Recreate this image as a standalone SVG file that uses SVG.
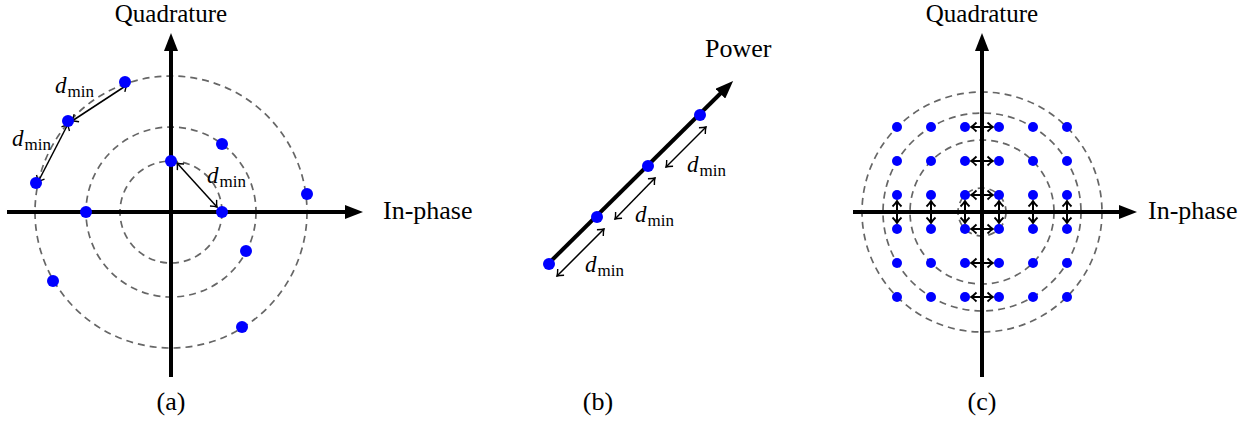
<svg xmlns="http://www.w3.org/2000/svg" width="1255" height="428" viewBox="0 0 1255 428">
<style>
.lbl{font-family:"Liberation Serif","Times New Roman",serif;font-size:26px;fill:#000}
.top{font-size:25px}
.dm{font-family:"Liberation Serif","Times New Roman",serif;fill:#000}
.dm .d{font-style:italic;font-size:23px}
.dm .s{font-size:17px}
.axis{stroke:#000;stroke-width:4;fill:none}
.ring{stroke:#666;stroke-width:1.7;fill:none;stroke-dasharray:7 5}
.dot{fill:#0000ff}
.dist{stroke:#000;stroke-width:1.5;fill:none}
.dist2{stroke:#000;stroke-width:2;fill:none}
</style>
<defs>
<marker id="ah" viewBox="0 0 18 14" refX="8" refY="7" markerWidth="18" markerHeight="14" markerUnits="userSpaceOnUse" orient="auto"><path d="M0,0 L18,7 L0,14 Z" fill="#000"/></marker>
<marker id="oa" viewBox="-7 -6 9 12" refX="0" refY="0" markerWidth="9" markerHeight="12" markerUnits="userSpaceOnUse" orient="auto-start-reverse" overflow="visible"><path d="M-5.5,-4.5 Q-2,-1 0,0 Q-2,1 -5.5,4.5" fill="none" stroke="#000" stroke-width="1.4"/></marker>
<marker id="ob" viewBox="-7 -6 9 12" refX="0" refY="0" markerWidth="9" markerHeight="12" markerUnits="userSpaceOnUse" orient="auto-start-reverse" overflow="visible"><path d="M-5.5,-4.5 Q-2,-1 0,0 Q-2,1 -5.5,4.5" fill="none" stroke="#000" stroke-width="1.8"/></marker>
</defs>
<rect width="1255" height="428" fill="#fff"/>

<!-- Panel (a) -->
<g id="panel-a">
  <g id="a-rings">
    <circle class="ring" cx="171" cy="212" r="51"/>
    <circle class="ring" cx="171" cy="212" r="85"/>
    <circle class="ring" cx="171" cy="212" r="136"/>
  </g>
  <g id="a-axes">
    <line class="axis" x1="7" y1="212" x2="353" y2="212" marker-end="url(#ah)"/>
    <line class="axis" x1="171" y1="377" x2="171" y2="43" marker-end="url(#ah)"/>
  </g>
  <g id="a-connectors">
    <line class="dist" x1="127" y1="85" x2="72" y2="121" marker-start="url(#oa)" marker-end="url(#oa)"/>
    <line class="dist" x1="68" y1="124" x2="38" y2="182" marker-start="url(#oa)" marker-end="url(#oa)"/>
    <line class="dist" x1="177" y1="163" x2="217" y2="207" marker-start="url(#oa)" marker-end="url(#oa)"/>
  </g>
  <g id="a-points">
    <circle class="dot" cx="125" cy="82" r="6"/>
    <circle class="dot" cx="68" cy="121" r="6"/>
    <circle class="dot" cx="36" cy="183" r="6"/>
    <circle class="dot" cx="171" cy="161" r="6"/>
    <circle class="dot" cx="222" cy="144" r="6"/>
    <circle class="dot" cx="307" cy="194" r="6"/>
    <circle class="dot" cx="86" cy="212" r="6"/>
    <circle class="dot" cx="222" cy="212" r="6"/>
    <circle class="dot" cx="246" cy="251" r="6"/>
    <circle class="dot" cx="53" cy="281" r="6"/>
    <circle class="dot" cx="242" cy="327" r="6"/>
  </g>
  <g id="a-labels">
    <text class="lbl top" x="171" y="22" text-anchor="middle">Quadrature</text>
    <text class="lbl" x="383" y="219">In-phase</text>
    <text class="dm" x="55" y="93"><tspan class="d">d</tspan><tspan class="s" dx="1" dy="4">min</tspan></text>
    <text class="dm" x="12" y="146"><tspan class="d">d</tspan><tspan class="s" dx="1" dy="4">min</tspan></text>
    <text class="dm" x="207" y="183"><tspan class="d">d</tspan><tspan class="s" dx="1" dy="4">min</tspan></text>
    <text class="lbl" x="171" y="410" text-anchor="middle">(a)</text>
  </g>
</g>

<!-- Panel (b) -->
<g id="panel-b">
  <g id="b-axis">
    <line class="axis" x1="548" y1="264" x2="726" y2="88" marker-end="url(#ah)"/>
  </g>
  <g id="b-connectors">
    <line class="dist" x1="557" y1="276" x2="604" y2="229" marker-start="url(#oa)" marker-end="url(#oa)"/>
    <line class="dist" x1="615" y1="219" x2="655" y2="178" marker-start="url(#oa)" marker-end="url(#oa)"/>
    <line class="dist" x1="666" y1="167" x2="706" y2="127" marker-start="url(#oa)" marker-end="url(#oa)"/>
  </g>
  <g id="b-points">
    <circle class="dot" cx="549" cy="264" r="6"/>
    <circle class="dot" cx="597" cy="217" r="6"/>
    <circle class="dot" cx="648" cy="166" r="6"/>
    <circle class="dot" cx="700" cy="115" r="6"/>
  </g>
  <g id="b-labels">
    <text class="lbl" x="705" y="57">Power</text>
    <text class="dm" x="585" y="272"><tspan class="d">d</tspan><tspan class="s" dx="1" dy="4">min</tspan></text>
    <text class="dm" x="635" y="222"><tspan class="d">d</tspan><tspan class="s" dx="1" dy="4">min</tspan></text>
    <text class="dm" x="687" y="172"><tspan class="d">d</tspan><tspan class="s" dx="1" dy="4">min</tspan></text>
    <text class="lbl" x="598" y="410" text-anchor="middle">(b)</text>
  </g>
</g>

<!-- Panel (c) -->
<g id="panel-c">
  <g id="c-rings">
    <circle class="ring" cx="982" cy="212" r="24"/>
    <circle class="ring" cx="982" cy="212" r="72"/>
    <circle class="ring" cx="982" cy="212" r="99"/>
    <circle class="ring" cx="982" cy="212" r="120"/>
  </g>
  <g id="c-axes">
    <line class="axis" x1="853" y1="212" x2="1127" y2="212" marker-end="url(#ah)"/>
    <line class="axis" x1="982" y1="377" x2="982" y2="43" marker-end="url(#ah)"/>
  </g>
  <g id="c-connectors">
    <line class="dist2" x1="971" y1="127" x2="993" y2="127" marker-start="url(#ob)" marker-end="url(#ob)"/>
    <line class="dist2" x1="971" y1="161" x2="993" y2="161" marker-start="url(#ob)" marker-end="url(#ob)"/>
    <line class="dist2" x1="971" y1="195" x2="993" y2="195" marker-start="url(#ob)" marker-end="url(#ob)"/>
    <line class="dist2" x1="971" y1="229" x2="993" y2="229" marker-start="url(#ob)" marker-end="url(#ob)"/>
    <line class="dist2" x1="971" y1="263" x2="993" y2="263" marker-start="url(#ob)" marker-end="url(#ob)"/>
    <line class="dist2" x1="971" y1="297" x2="993" y2="297" marker-start="url(#ob)" marker-end="url(#ob)"/>
    <line class="dist2" x1="897" y1="201" x2="897" y2="223" marker-start="url(#ob)" marker-end="url(#ob)"/>
    <line class="dist2" x1="931" y1="201" x2="931" y2="223" marker-start="url(#ob)" marker-end="url(#ob)"/>
    <line class="dist2" x1="965" y1="201" x2="965" y2="223" marker-start="url(#ob)" marker-end="url(#ob)"/>
    <line class="dist2" x1="999" y1="201" x2="999" y2="223" marker-start="url(#ob)" marker-end="url(#ob)"/>
    <line class="dist2" x1="1033" y1="201" x2="1033" y2="223" marker-start="url(#ob)" marker-end="url(#ob)"/>
    <line class="dist2" x1="1067" y1="201" x2="1067" y2="223" marker-start="url(#ob)" marker-end="url(#ob)"/>
  </g>
  <g id="c-points">
    <circle class="dot" cx="897" cy="127" r="5"/><circle class="dot" cx="931" cy="127" r="5"/><circle class="dot" cx="965" cy="127" r="5"/><circle class="dot" cx="999" cy="127" r="5"/><circle class="dot" cx="1033" cy="127" r="5"/><circle class="dot" cx="1067" cy="127" r="5"/>
    <circle class="dot" cx="897" cy="161" r="5"/><circle class="dot" cx="931" cy="161" r="5"/><circle class="dot" cx="965" cy="161" r="5"/><circle class="dot" cx="999" cy="161" r="5"/><circle class="dot" cx="1033" cy="161" r="5"/><circle class="dot" cx="1067" cy="161" r="5"/>
    <circle class="dot" cx="897" cy="195" r="5"/><circle class="dot" cx="931" cy="195" r="5"/><circle class="dot" cx="965" cy="195" r="5"/><circle class="dot" cx="999" cy="195" r="5"/><circle class="dot" cx="1033" cy="195" r="5"/><circle class="dot" cx="1067" cy="195" r="5"/>
    <circle class="dot" cx="897" cy="229" r="5"/><circle class="dot" cx="931" cy="229" r="5"/><circle class="dot" cx="965" cy="229" r="5"/><circle class="dot" cx="999" cy="229" r="5"/><circle class="dot" cx="1033" cy="229" r="5"/><circle class="dot" cx="1067" cy="229" r="5"/>
    <circle class="dot" cx="897" cy="263" r="5"/><circle class="dot" cx="931" cy="263" r="5"/><circle class="dot" cx="965" cy="263" r="5"/><circle class="dot" cx="999" cy="263" r="5"/><circle class="dot" cx="1033" cy="263" r="5"/><circle class="dot" cx="1067" cy="263" r="5"/>
    <circle class="dot" cx="897" cy="297" r="5"/><circle class="dot" cx="931" cy="297" r="5"/><circle class="dot" cx="965" cy="297" r="5"/><circle class="dot" cx="999" cy="297" r="5"/><circle class="dot" cx="1033" cy="297" r="5"/><circle class="dot" cx="1067" cy="297" r="5"/>
  </g>
  <g id="c-labels">
    <text class="lbl top" x="982" y="22" text-anchor="middle">Quadrature</text>
    <text class="lbl" x="1148" y="219">In-phase</text>
    <text class="lbl" x="982" y="410" text-anchor="middle">(c)</text>
  </g>
</g>
</svg>
